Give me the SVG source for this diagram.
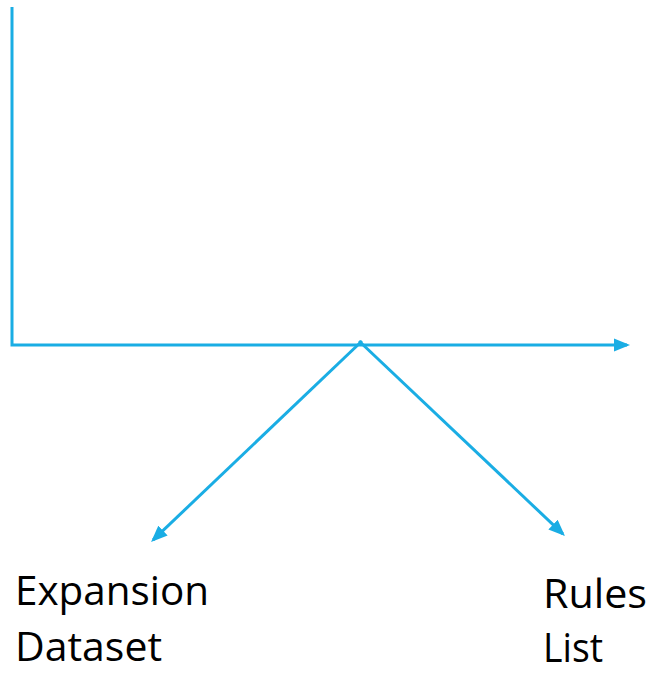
<svg xmlns="http://www.w3.org/2000/svg" width="651" height="673" viewBox="0 0 651 673">
<defs>
<style>
.ln{stroke:#1AADE4;stroke-width:3;fill:none}
.lb{font-family:"Open Sans","Liberation Sans",sans-serif;font-size:41px;fill:#000}
</style>
<marker id="ah" markerWidth="5.5" markerHeight="4.5" refX="4.5" refY="2.25" orient="auto" markerUnits="strokeWidth">
<path d="M0,0 L5.5,2.25 L0,4.5 Z" fill="#1AADE4"/>
</marker>
</defs>
<g id="connectors">
<path class="ln" d="M12,7 L12,345 L627,345" marker-end="url(#ah)"/>
<line class="ln" x1="362" y1="341" x2="153.2" y2="539.9" marker-end="url(#ah)"/>
<line class="ln" x1="359" y1="341" x2="562.8" y2="533.9" marker-end="url(#ah)"/>
</g>
<g id="expansion-dataset">
<text class="lb" x="15" y="605" textLength="194" lengthAdjust="spacingAndGlyphs">Expansion</text>
<text class="lb" x="15" y="661" textLength="147" lengthAdjust="spacingAndGlyphs">Dataset</text>
</g>
<g id="rules-list">
<text class="lb" x="543" y="608" textLength="104" lengthAdjust="spacingAndGlyphs">Rules</text>
<text class="lb" x="543" y="662" textLength="60" lengthAdjust="spacingAndGlyphs">List</text>
</g>
</svg>
